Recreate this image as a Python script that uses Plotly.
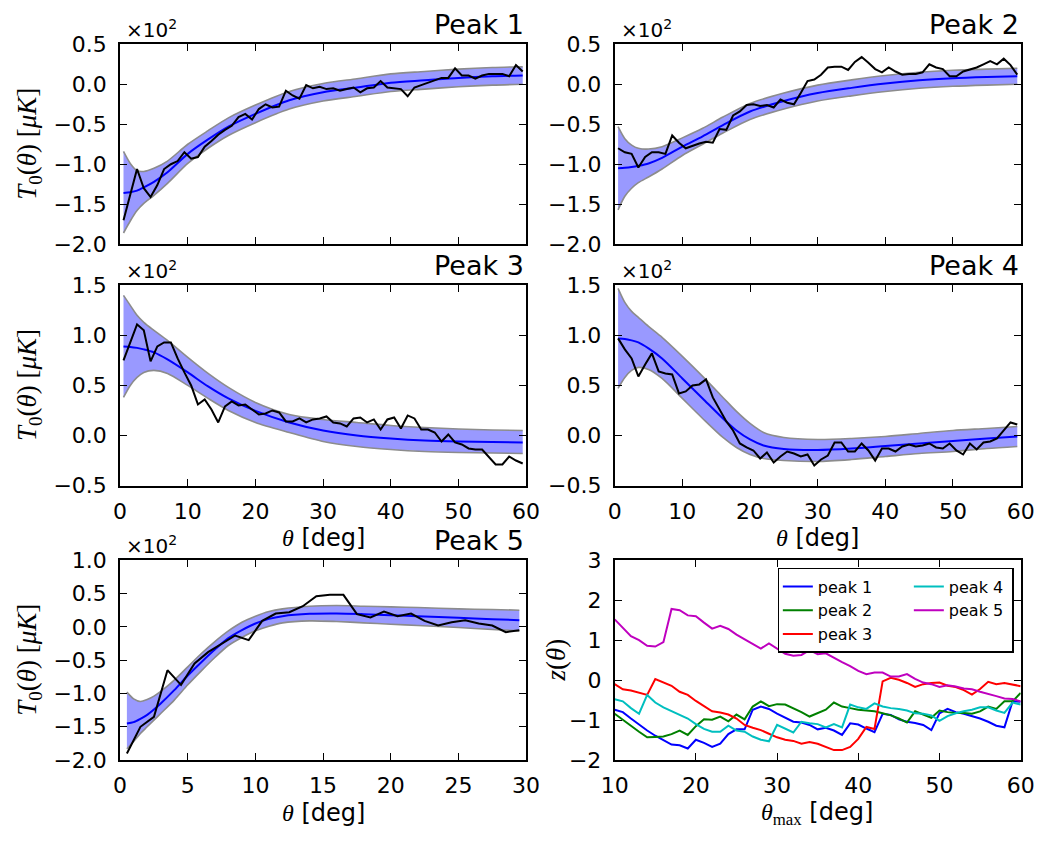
import plotly.graph_objects as go

W, H = 1059, 842

# ---------------- data ----------------
theta_obs = [i + 0.5 for i in range(60)]          # 0.5 ... 59.5 deg
theta_obs5 = [i + 0.5 for i in range(30)]         # 0.5 ... 29.5 deg

obs1 = [-1.70, -1.38, -1.06, -1.30, -1.41, -1.26, -1.06, -1.00, -0.96, -0.85,
        -0.93, -0.91, -0.78, -0.71, -0.63, -0.57, -0.52, -0.41, -0.37, -0.44,
        -0.31, -0.25, -0.29, -0.28, -0.08, -0.14, -0.18, -0.01, -0.05, -0.03,
        -0.06, -0.05, -0.08, -0.06, -0.04, -0.10, -0.05, -0.04, 0.04, -0.04,
        -0.05, -0.06, -0.15, -0.04, -0.01, 0.02, 0.05, 0.08, 0.08, 0.20,
        0.11, 0.11, 0.07, 0.11, 0.13, 0.13, 0.13, 0.10, 0.24, 0.16]
obs2 = [-0.80, -0.85, -0.87, -1.04, -0.91, -0.85, -0.85, -0.87, -0.64, -0.73,
        -0.80, -0.77, -0.74, -0.72, -0.73, -0.56, -0.57, -0.39, -0.34, -0.26,
        -0.25, -0.27, -0.26, -0.29, -0.19, -0.23, -0.25, -0.11, 0.04, 0.06,
        0.12, 0.21, 0.22, 0.22, 0.18, 0.28, 0.34, 0.27, 0.19, 0.15,
        0.21, 0.16, 0.12, 0.13, 0.13, 0.15, 0.25, 0.21, 0.19, 0.10,
        0.10, 0.16, 0.19, 0.21, 0.25, 0.29, 0.25, 0.32, 0.24, 0.12]
obs3 = [0.75, 0.92, 1.11, 1.05, 0.74, 0.89, 0.93, 0.93, 0.77, 0.63,
        0.50, 0.31, 0.36, 0.26, 0.13, 0.29, 0.34, 0.30, 0.31, 0.26,
        0.21, 0.22, 0.25, 0.23, 0.14, 0.14, 0.17, 0.13, 0.16, 0.17,
        0.19, 0.13, 0.12, 0.09, 0.17, 0.18, 0.13, 0.16, 0.06, 0.16,
        0.18, 0.07, 0.20, 0.17, 0.06, 0.06, 0.03, -0.06, 0.01, -0.07,
        -0.09, -0.13, -0.14, -0.14, -0.22, -0.29, -0.29, -0.21, -0.25, -0.28]
obs4 = [0.97, 0.86, 0.77, 0.59, 0.71, 0.82, 0.64, 0.62, 0.61, 0.42,
        0.44, 0.50, 0.51, 0.56, 0.38, 0.26, 0.14, 0.05, -0.08, -0.12,
        -0.15, -0.23, -0.17, -0.27, -0.21, -0.16, -0.18, -0.21, -0.19, -0.30,
        -0.24, -0.20, -0.07, -0.07, -0.16, -0.16, -0.08, -0.15, -0.25, -0.13,
        -0.13, -0.16, -0.11, -0.09, -0.11, -0.10, -0.08, -0.12, -0.13, -0.08,
        -0.15, -0.19, -0.08, -0.14, -0.07, -0.06, -0.03, 0.05, 0.13, 0.11]
obs5 = [-1.90, -1.50, -1.35, -0.65, -0.87, -0.55, -0.38, -0.26, -0.13, -0.20,
        0.09, 0.20, 0.22, 0.31, 0.46, 0.48, 0.48, 0.19, 0.14, 0.23,
        0.16, 0.20, 0.09, 0.02, 0.07, 0.10, 0.05, 0.02, -0.08, -0.05]

# model curves (mean) and 1-sigma band
fit_x1 = [0.5, 1.5, 2.5, 3.5, 5, 7, 10, 13, 16, 20, 25, 30, 35, 40, 45, 50, 55, 59.5]
fit1 = [-1.36, -1.35, -1.33, -1.29, -1.22, -1.10, -0.87, -0.69, -0.53, -0.37,
        -0.20, -0.10, -0.04, 0.02, 0.05, 0.08, 0.10, 0.11]
up1 = [-0.84, -0.99, -1.08, -1.09, -1.05, -0.96, -0.75, -0.58, -0.42, -0.26,
       -0.09, 0.01, 0.07, 0.13, 0.16, 0.19, 0.21, 0.22]
lo1 = [-1.86, -1.71, -1.58, -1.49, -1.39, -1.24, -0.99, -0.80, -0.64, -0.48,
       -0.31, -0.21, -0.15, -0.09, -0.06, -0.03, -0.01, 0.00]

fit_x2 = [0.5, 1.5, 2.5, 3.5, 5, 7, 10, 13, 16, 20, 25, 30, 35, 40, 45, 50, 55, 59.5]
fit2 = [-1.05, -1.045, -1.035, -1.02, -0.99, -0.92, -0.78, -0.65, -0.51, -0.34,
        -0.21, -0.11, -0.045, 0.01, 0.05, 0.075, 0.09, 0.10]
up2 = [-0.53, -0.68, -0.76, -0.80, -0.81, -0.78, -0.67, -0.55, -0.41, -0.24,
       -0.11, -0.01, 0.055, 0.11, 0.15, 0.175, 0.19, 0.20]
lo2 = [-1.57, -1.40, -1.30, -1.23, -1.16, -1.06, -0.89, -0.75, -0.61, -0.44,
       -0.31, -0.21, -0.145, -0.09, -0.05, -0.025, -0.01, 0.00]

fit_x3 = [0.5, 1.5, 2.5, 3.5, 5, 7, 10, 13, 16, 20, 25, 30, 35, 40, 45, 50, 55, 59.5]
fit3 = [0.89, 0.885, 0.875, 0.86, 0.83, 0.76, 0.63, 0.49, 0.37, 0.245,
        0.13, 0.05, 0.00, -0.03, -0.05, -0.06, -0.065, -0.07]
up3 = [1.40, 1.30, 1.20, 1.13, 1.05, 0.95, 0.78, 0.62, 0.48, 0.33,
       0.21, 0.16, 0.13, 0.10, 0.08, 0.065, 0.055, 0.05]
lo3 = [0.38, 0.50, 0.58, 0.63, 0.65, 0.62, 0.50, 0.37, 0.25, 0.13,
       0.03, -0.06, -0.11, -0.14, -0.16, -0.17, -0.175, -0.18]

fit_x4 = [0.5, 1.5, 2.5, 3.5, 5, 7, 10, 13, 16, 18, 20, 22, 25, 30, 35, 40, 45, 50, 55, 59.5]
fit4 = [0.97, 0.965, 0.95, 0.93, 0.87, 0.77, 0.57, 0.37, 0.17, 0.05,
        -0.04, -0.10, -0.135, -0.145, -0.13, -0.105, -0.08, -0.055, -0.03, -0.01]
up4 = [1.47, 1.33, 1.24, 1.18, 1.09, 0.98, 0.79, 0.59, 0.38, 0.24,
       0.12, 0.03, -0.02, -0.04, -0.03, -0.01, 0.02, 0.05, 0.07, 0.09]
lo4 = [0.47, 0.58, 0.65, 0.68, 0.66, 0.57, 0.37, 0.17, -0.02, -0.12,
       -0.19, -0.23, -0.25, -0.26, -0.24, -0.21, -0.18, -0.16, -0.13, -0.11]

fit_x5 = [0.5, 1, 1.5, 2, 2.5, 3, 4, 5, 6, 7, 8, 9, 10, 11, 12, 14, 16, 18, 20, 22, 25, 27.5, 29.5]
fit5 = [-1.45, -1.43, -1.38, -1.32, -1.24, -1.15, -0.95, -0.73, -0.53, -0.34,
        -0.17, -0.05, 0.05, 0.12, 0.16, 0.195, 0.20, 0.19, 0.175, 0.16, 0.135, 0.115, 0.10]
up5 = [-0.98, -1.08, -1.12, -1.09, -1.04, -0.97, -0.80, -0.60, -0.40, -0.22,
       -0.06, 0.07, 0.16, 0.23, 0.27, 0.31, 0.32, 0.31, 0.30, 0.29, 0.27, 0.26, 0.25]
lo5 = [-1.83, -1.72, -1.60, -1.50, -1.40, -1.30, -1.10, -0.87, -0.66, -0.46,
       -0.28, -0.16, -0.06, 0.01, 0.06, 0.09, 0.08, 0.06, 0.04, 0.02, -0.01, -0.04, -0.06]

# z(theta_max) for the 5 peaks
theta_max = list(range(10, 61))
z1 = [-0.74, -0.80, -0.96, -1.12, -1.26, -1.39, -1.51, -1.61, -1.63, -1.71,
      -1.49, -1.57, -1.67, -1.59, -1.35, -1.23, -1.23, -0.74, -0.66, -0.72,
      -0.84, -0.94, -1.04, -1.06, -1.12, -1.23, -1.19, -1.26, -1.37, -1.08,
      -1.11, -1.21, -1.30, -0.84, -0.87, -0.98, -1.04, -1.07, -1.12, -1.25,
      -0.83, -0.72, -0.80, -0.84, -0.90, -0.96, -1.04, -1.14, -1.18, -0.53, -0.54]
z2 = [-0.84, -1.00, -1.14, -1.29, -1.43, -1.42, -1.41, -1.35, -1.26, -1.37,
      -1.15, -0.98, -0.99, -0.91, -1.03, -0.86, -0.98, -0.66, -0.53, -0.65,
      -0.60, -0.61, -0.70, -0.80, -0.91, -0.83, -0.74, -0.56, -0.66, -0.70,
      -0.74, -0.76, -0.78, -0.83, -0.88, -0.96, -1.06, -0.78, -0.87, -0.94,
      -0.76, -0.80, -0.82, -0.82, -0.84, -0.78, -0.66, -0.72, -0.53, -0.53, -0.32]
z3 = [-0.10, -0.23, -0.26, -0.32, -0.37, 0.03, -0.05, -0.14, -0.29, -0.37,
      -0.52, -0.66, -0.78, -0.81, -0.86, -0.96, -1.12, -1.19, -1.25, -1.34,
      -1.43, -1.49, -1.52, -1.59, -1.55, -1.59, -1.67, -1.75, -1.75, -1.67,
      -1.47, -1.17, -1.22, -0.03, 0.06, 0.01, -0.07, -0.17, -0.10, -0.07,
      -0.06, -0.14, -0.17, -0.25, -0.36, -0.22, -0.04, -0.10, -0.07, -0.11, -0.15]
z4 = [-0.48, -0.53, -0.70, -0.84, -0.37, -0.56, -0.68, -0.78, -0.86, -0.96,
      -1.10, -1.22, -1.29, -1.29, -1.14, -1.26, -1.29, -1.41, -1.49, -1.53,
      -1.12, -1.21, -1.31, -1.04, -1.08, -1.10, -1.18, -1.10, -1.18, -0.61,
      -0.68, -0.72, -0.58, -0.66, -0.70, -0.72, -0.76, -0.83, -0.84, -0.88,
      -1.02, -0.90, -0.83, -0.78, -0.74, -0.68, -0.68, -0.76, -0.82, -0.56, -0.61]
z5 = [1.52, 1.30, 1.10, 1.00, 0.86, 0.84, 0.95, 1.78, 1.75, 1.62,
      1.60, 1.44, 1.29, 1.36, 1.28, 1.14, 1.02, 0.91, 0.79, 0.92,
      0.78, 0.66, 0.61, 0.63, 0.75, 0.65, 0.67, 0.55, 0.45, 0.35,
      0.23, 0.15, 0.19, 0.19, 0.09, 0.09, 0.15, 0.03, -0.06, -0.10,
      -0.17, -0.13, -0.16, -0.21, -0.23, -0.29, -0.34, -0.40, -0.46, -0.47, -0.53]

peak_titles = ["Peak 1", "Peak 2", "Peak 3", "Peak 4", "Peak 5"]
z_names = ["peak 1", "peak 2", "peak 3", "peak 4", "peak 5"]
z_colors = ["#0000ff", "#008000", "#ff0000", "#00bfbf", "#bf00bf"]

# ---------------- layout geometry (pixels) ----------------
cols = [(109, 526), (617, 1034)]
rows = [(33.3, 239.3), (281.7, 488), (565, 771)]
panel_pos = [(0, 0), (0, 1), (1, 0), (1, 1), (2, 0), (2, 1)]


def fx(p):
    return p / W


def fy(p):
    return 1 - p / H


fig = go.Figure()

panels = [
    (theta_obs, obs1, fit_x1, fit1, up1, lo1),
    (theta_obs, obs2, fit_x2, fit2, up2, lo2),
    (theta_obs, obs3, fit_x3, fit3, up3, lo3),
    (theta_obs, obs4, fit_x4, fit4, up4, lo4),
    (theta_obs5, obs5, fit_x5, fit5, up5, lo5),
]

for i, (tx, ob, fxs, fit, up, lo) in enumerate(panels):
    ax = "" if i == 0 else str(i + 1)
    xa, ya = "x" + ax, "y" + ax
    fig.add_trace(go.Scatter(x=fxs, y=lo, mode="lines", xaxis=xa, yaxis=ya,
                             line=dict(color="#8c8c8c", width=1.6, shape="spline", smoothing=0.8),
                             showlegend=False, hoverinfo="skip"))
    fig.add_trace(go.Scatter(x=fxs, y=up, mode="lines", xaxis=xa, yaxis=ya, fill="tonexty",
                             fillcolor="rgba(0,0,255,0.4)",
                             line=dict(color="#8c8c8c", width=1.6, shape="spline", smoothing=0.8),
                             showlegend=False, hoverinfo="skip"))
    fig.add_trace(go.Scatter(x=fxs, y=fit, mode="lines", xaxis=xa, yaxis=ya,
                             line=dict(color="#0000ff", width=2, shape="spline", smoothing=0.8),
                             showlegend=False))
    fig.add_trace(go.Scatter(x=tx, y=ob, mode="lines", xaxis=xa, yaxis=ya,
                             line=dict(color="black", width=2), showlegend=False))

groups = ["a", "a", "a", "b", "b"]
entry_w = [86, 86, 86, 58, 58]
for zs, nm, c, g, ew in zip([z1, z2, z3, z4, z5], z_names, z_colors, groups, entry_w):
    fig.add_trace(go.Scatter(x=theta_max, y=zs, mode="lines", xaxis="x6", yaxis="y6",
                             name=nm, legendgroup=g, legendwidth=ew,
                             line=dict(color=c, width=2)))

axis_common = dict(showline=True, linecolor="black", linewidth=1.8, mirror="allticks",
                   ticks="inside", ticklen=7, tickwidth=1.2, tickcolor="black",
                   showgrid=False, zeroline=False,
                   tickfont=dict(family="DejaVu Sans", size=22, color="black"))

x_ranges = [[0, 60], [0, 60], [0, 60], [0, 60], [0, 30], [10, 60]]
x_dticks = [10, 10, 10, 10, 5, 10]
x_labels_on = [False, False, True, True, True, True]
y_ranges = [[-2, 0.5], [-2, 0.5], [-0.5, 1.5], [-0.5, 1.5], [-2, 1], [-2, 3]]
y_dticks = [0.5, 0.5, 0.5, 0.5, 0.5, 1]
y_formats = [".1f", ".1f", ".1f", ".1f", ".1f", "d"]

layout_axes = {}
for i, (r, c) in enumerate(panel_pos):
    k = "" if i == 0 else str(i + 1)
    x0, x1 = cols[c]
    yt, yb = rows[r]
    layout_axes["xaxis" + k] = dict(axis_common, domain=[fx(x0), fx(x1)], anchor="y" + k,
                                    range=x_ranges[i], dtick=x_dticks[i], tick0=0,
                                    showticklabels=x_labels_on[i], ticklabelstandoff=5)
    layout_axes["yaxis" + k] = dict(axis_common, domain=[fy(yb), fy(yt)], anchor="x" + k,
                                    range=y_ranges[i], dtick=y_dticks[i], tick0=0,
                                    tickformat=y_formats[i], ticklabelstandoff=7)

annotations = []
serif = "Liberation Serif"
for i in range(5):
    r, c = panel_pos[i]
    x0, x1 = cols[c]
    yt, yb = rows[r]
    annotations.append(dict(text=peak_titles[i], x=fx(x1), y=fy(yt), xref="paper", yref="paper",
                            xanchor="right", yanchor="bottom", yshift=2, showarrow=False,
                            font=dict(family="DejaVu Sans", size=27, color="black")))
    annotations.append(dict(text="×10<sup>2</sup>", x=fx(x0 + 4), y=fy(yt), xref="paper",
                            yref="paper", xanchor="left", yanchor="bottom", yshift=0,
                            showarrow=False,
                            font=dict(family="DejaVu Sans", size=20, color="black")))
    if c == 0:
        annotations.append(dict(text="<i>T</i><sub>0</sub>(<i>θ</i>) [<i>μK</i>]",
                                x=fx(16), y=fy((yt + yb) / 2), xref="paper", yref="paper",
                                xanchor="center", yanchor="middle", textangle=-90,
                                showarrow=False, font=dict(family=serif, size=27, color="black")))

xlab = "<span style='font-family:Liberation Serif'><i>θ</i></span> [deg]"
for i, ycen in [(2, 542), (3, 542), (4, 826)]:
    r, c = panel_pos[i]
    x0, x1 = cols[c]
    annotations.append(dict(text=xlab, x=fx((x0 + x1) / 2), y=fy(ycen), xref="paper",
                            yref="paper", xanchor="center", yanchor="middle", showarrow=False,
                            font=dict(family="DejaVu Sans", size=24, color="black")))
annotations.append(dict(text="<span style='font-family:Liberation Serif'><i>θ</i><sub>max</sub></span> [deg]",
                        x=fx(825), y=fy(826), xref="paper", yref="paper", xanchor="center",
                        yanchor="middle", showarrow=False,
                        font=dict(family="DejaVu Sans", size=24, color="black")))
annotations.append(dict(text="<i>z</i>(<i>θ</i>)", x=fx(557), y=fy(668), xref="paper",
                        yref="paper", xanchor="center", yanchor="middle", textangle=-90,
                        showarrow=False, font=dict(family=serif, size=27, color="black")))

fig.update_layout(
    width=W, height=H, margin=dict(l=0, r=0, t=0, b=0),
    paper_bgcolor="white", plot_bgcolor="white",
    annotations=annotations,
    legend=dict(orientation="h", x=fx(1027), y=fy(573), xanchor="right", yanchor="top",
                traceorder="grouped",
                bordercolor="black", borderwidth=1.5, bgcolor="white",
                font=dict(family="DejaVu Sans", size=16, color="black")),
    **layout_axes,
)

fig.write_html("out.html")
